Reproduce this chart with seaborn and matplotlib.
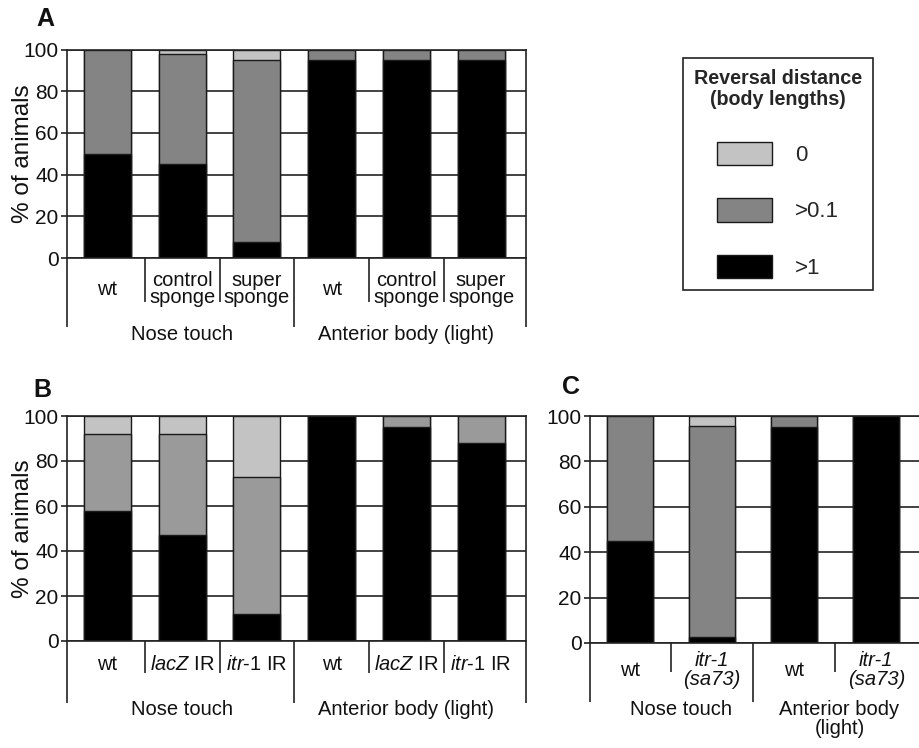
import matplotlib
matplotlib.use("Agg")
import matplotlib.pyplot as plt
import seaborn as sns
import pandas as pd
import numpy as np
from matplotlib.patches import Patch

# ---------------- data ----------------
A_keys = ["NT_wt", "NT_ctrl", "NT_super", "AB_wt", "AB_ctrl", "AB_super"]
A_labels = ["wt", "control\nsponge", "super\nsponge", "wt", "control\nsponge", "super\nsponge"]
A_gt1 = [50, 45, 7.5, 95, 95, 95]
A_gt01 = [50, 53, 87.5, 5, 5, 5]
A_zero = [0, 2, 5, 0, 0, 0]

B_keys = ["NT_wt", "NT_lacZ", "NT_itr", "AB_wt", "AB_lacZ", "AB_itr"]
B_labels = ["wt", "$\\mathit{lacZ}$ IR", "$\\mathit{itr}$-$\\mathit{1}$ IR",
            "wt", "$\\mathit{lacZ}$ IR", "$\\mathit{itr}$-$\\mathit{1}$ IR"]
B_gt1 = [58, 47, 12, 100, 95, 88]
B_gt01 = [34, 45, 61, 0, 5, 12]
B_zero = [8, 8, 27, 0, 0, 0]

C_keys = ["NT_wt", "NT_sa73", "AB_wt", "AB_sa73"]
C_labels = ["wt", "itr-1\n(sa73)", "wt", "itr-1\n(sa73)"]
C_italic = [False, True, False, True]
C_gt1 = [45, 2.5, 95, 100]
C_gt01 = [55, 93, 5, 0]
C_zero = [0, 4.5, 0, 0]

AB_groups = ["Nose touch", "Anterior body (light)"]
C_groups = ["Nose touch", "Anterior body\n(light)"]
LEG_LABELS = ["0", ">0.1", ">1"]
LEG_TITLE = "Reversal distance\n(body lengths)"
YTICKS = [0, 20, 40, 60, 80, 100]

# ---------------- style ----------------
LIGHT = "#c3c3c3"
MID_AC = "#848484"
MID_B = "#9a9a9a"
EDGE = "#1a1a1a"
LINE = "#222222"
TXT = "#111111"

sns.set_theme(style="white")
plt.rcParams['font.family'] = ['Liberation Sans', 'DejaVu Sans']
plt.rcParams['mathtext.fontset'] = 'custom'
plt.rcParams['mathtext.rm'] = 'Liberation Sans'
plt.rcParams['mathtext.it'] = 'Liberation Sans:italic'

W, H = 919, 748
fig = plt.figure(figsize=(W / 100, H / 100), dpi=100)


def axes_px(left, top, right, bottom):
    return fig.add_axes([left / W, 1 - bottom / H, (right - left) / W, (bottom - top) / H])


def panel(ax, keys, gt1, gt01, zero, mid, xlim, bar_w, right_spine=True):
    df = pd.DataFrame({
        "key": keys,
        "total": np.add(np.add(gt1, gt01), zero),
        "mid": np.add(gt1, gt01),
        "black": gt1,
    })
    for col, colr in [("total", LIGHT), ("mid", mid), ("black", "black")]:
        sns.barplot(data=df, x="key", y=col, order=keys, color=colr, saturation=1,
                    width=bar_w, edgecolor=EDGE, linewidth=1.0, errorbar=None, ax=ax)
    ax.set_xlim(*xlim)
    ax.set_ylim(0, 100)
    ax.set_yticks(YTICKS)
    ax.set_xticks([])
    ax.set_xlabel("")
    ax.set_ylabel("")
    ax.set_axisbelow(True)
    ax.yaxis.grid(True, color=LINE, linewidth=1.2)
    ax.xaxis.grid(False)
    for s in ax.spines.values():
        s.set_color(LINE)
        s.set_linewidth(1.2)
    ax.spines['right'].set_visible(right_spine)
    ax.tick_params(axis='y', left=True, length=4, width=1.2, color=LINE,
                   labelsize=15, pad=2, labelcolor=TXT)


def below(ax, h_px, n, xlim, short_px, long_px, labels, lab_px, groups, grp_px,
          grp_x, lab_ls=0.8, grp_ls=1.0, italic=None, right_edge=True):
    trans = ax.get_xaxis_transform()
    half = n // 2
    for i in range(1, n):
        xx = i - 0.5
        ln = long_px if i == half else short_px
        ax.plot([xx, xx], [0, -ln / h_px], transform=trans, color=LINE, lw=1.2,
                clip_on=False, solid_capstyle='butt')
    edges = [xlim[0]] + ([xlim[1]] if right_edge else [])
    for xx in edges:
        ax.plot([xx, xx], [0, -long_px / h_px], transform=trans, color=LINE, lw=1.2,
                clip_on=False, solid_capstyle='butt')
    for i, lab in enumerate(labels):
        st = 'italic' if (italic is not None and italic[i]) else 'normal'
        ax.text(i, -lab_px / h_px, lab, transform=trans, ha='center', va='center',
                fontsize=14.5, linespacing=lab_ls, style=st, color=TXT)
    for gx, g in zip(grp_x, groups):
        ax.text(gx, -grp_px / h_px, g, transform=trans, ha='center', va='top',
                fontsize=14.5, linespacing=grp_ls, color=TXT)


# Panel A
xlA = (-0.54, 5.60)
axA = axes_px(67, 49.5, 526, 258)
panel(axA, A_keys, A_gt1, A_gt01, A_zero, MID_AC, xlA, 0.63)
below(axA, 208.5, 6, xlA, 44, 69, A_labels, 31, AB_groups, 67, [1.0, 4.0], lab_ls=0.82)
axA.set_ylabel("% of animals", fontsize=17.5, color=TXT)
axA.yaxis.set_label_coords(-0.072, 0.5)

# Panel B
axB = axes_px(67, 416, 526, 641)
panel(axB, B_keys, B_gt1, B_gt01, B_zero, MID_B, xlA, 0.63)
below(axB, 225, 6, xlA, 32, 62, B_labels, 24, AB_groups, 59, [1.0, 4.0])
axB.set_ylabel("% of animals", fontsize=17.5, color=TXT)
axB.yaxis.set_label_coords(-0.072, 0.5)

# Panel C
xlC = (-0.49, 3.52)
axC = axes_px(590, 416, 919, 643)
panel(axC, C_keys, C_gt1, C_gt01, C_zero, MID_AC, xlC, 0.56, right_spine=False)
below(axC, 227, 4, xlC, 29, 59, C_labels, 27, C_groups, 57, [0.62, 2.55],
      lab_ls=1.05, grp_ls=1.0, italic=C_italic, right_edge=False)

# panel letters
for letter, (px, py) in {"A": (36, 19), "B": (33, 390), "C": (562, 387)}.items():
    fig.text(px / W, 1 - py / H, letter, fontsize=18, fontweight='bold',
             ha='left', va='center', color=TXT)

# legend
handles = [Patch(facecolor=c, edgecolor=EDGE, linewidth=1.0) for c in [LIGHT, MID_AC, "black"]]
leg = fig.legend(handles, LEG_LABELS, title=LEG_TITLE, loc='upper left',
                 bbox_to_anchor=(683 / W, 1 - 58 / H), borderaxespad=0,
                 frameon=True, fancybox=False, edgecolor=LINE, framealpha=1,
                 fontsize=16, title_fontproperties={'weight': 'bold', 'size': 14.2},
                 handlelength=2.48, handleheight=1.26, labelspacing=1.45,
                 handletextpad=1.04, borderpad=0.5)
leg.get_frame().set_linewidth(1.2)
leg.get_title().set_multialignment('center')
leg.get_title().set_linespacing(1.15)

fig.savefig("out.png", dpi=100)
